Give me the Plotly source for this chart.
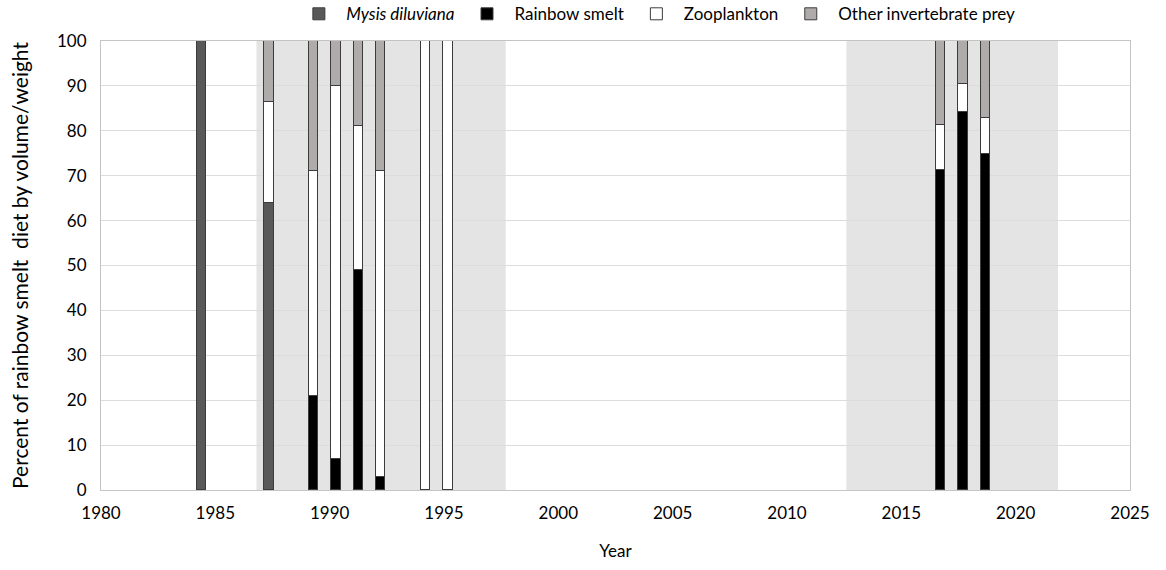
import plotly.graph_objects as go

# Sampling years (bar centres on the year axis)
bar_x = [1984.4, 1987.35, 1989.3, 1990.28, 1991.25, 1992.23, 1994.2, 1995.18,
         2016.71, 2017.69, 2018.67]

# Diet composition (% by volume/weight)
mysis = [100, 64, 0, 0, 0, 0, 0, 0, 0, 0, 0]
smelt = [0, 0, 21, 7, 49, 3, 0, 0, 71.2, 84.2, 74.9]
zooplankton = [0, 22.4, 50, 83, 32, 68, 100, 100, 10, 6.3, 8]
other_inv = [0, 13.6, 29, 10, 19, 29, 0, 0, 18.8, 9.5, 17.1]

# Shaded periods on the year axis
shade_periods = [(1986.8, 1997.7), (2012.6, 2021.85)]

y_ticks = list(range(0, 101, 10))
x_ticks = list(range(1980, 2026, 5))

FONT = "Lato"
BAR_W = 0.41
EDGE = "#3c3c3c"

series = [
    ("<i>Mysis diluviana</i>", mysis, "#595959"),
    ("Rainbow smelt", smelt, "#000000"),
    ("Zooplankton", zooplankton, "#ffffff"),
    ("Other invertebrate prey", other_inv, "#afabab"),
]

fig = go.Figure()
for name, vals, color in series:
    fig.add_trace(go.Bar(
        x=bar_x, y=vals, name=name, width=BAR_W,
        marker=dict(color=color, line=dict(color=EDGE, width=1)),
    ))

for x0, x1 in shade_periods:
    fig.add_shape(type="rect", xref="x", yref="paper", x0=x0, x1=x1, y0=0, y1=1,
                  fillcolor="#e4e4e4", line_width=0, layer="below")

fig.update_layout(
    width=1166, height=570,
    barmode="stack", bargap=0,
    paper_bgcolor="white", plot_bgcolor="white",
    margin=dict(l=101, r=36, t=41, b=80, autoexpand=False),
    font=dict(family=FONT, size=16, color="#000000"),
    legend=dict(orientation="h", x=0.185, xanchor="left",
                yref="container", y=0.975, yanchor="middle", itemwidth=45,
                font=dict(size=17), traceorder="normal", bgcolor="rgba(0,0,0,0)"),
    xaxis=dict(range=[1980, 2025], tickvals=x_ticks, showgrid=False, zeroline=False,
               showline=True, linecolor="#c4c4c4", linewidth=1, mirror=True,
               ticks="", tickfont=dict(size=17), ticklabelstandoff=8,
               title=dict(text="Year", font=dict(size=17), standoff=22)),
    yaxis=dict(range=[0, 100], tickvals=y_ticks, showgrid=True, gridcolor="#dcdcdc",
               gridwidth=1, zeroline=False, showline=True, linecolor="#c4c4c4",
               linewidth=1, mirror=True, ticks="", tickfont=dict(size=17),
               ticklabelstandoff=10,
               title=dict(text="Percent of rainbow smelt  diet by volume/weight",
                          font=dict(size=21), standoff=22)),
)

fig.write_html("out.html")
